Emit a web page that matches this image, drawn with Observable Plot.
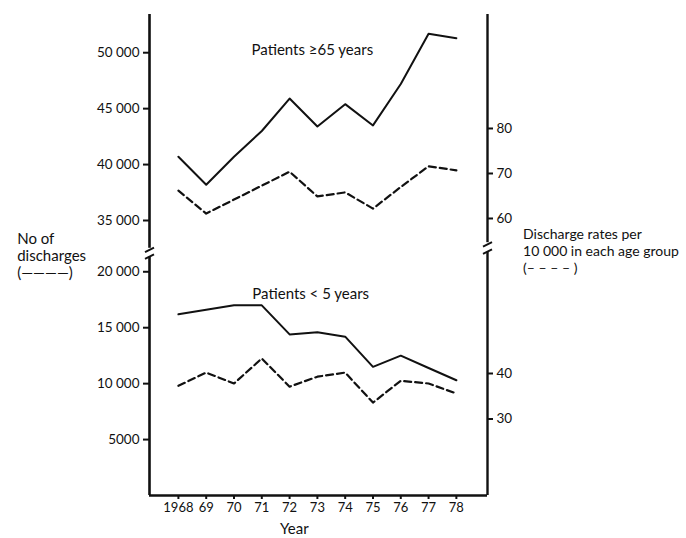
<!DOCTYPE html>
<html>
<head>
<meta charset="utf-8">
<script src="https://cdn.jsdelivr.net/npm/d3@7"></script>
<script src="https://cdn.jsdelivr.net/npm/@observablehq/plot@0.6"></script>
<style>
  body { margin: 0; background: #fff; }
</style>
</head>
<body>
<div id="chart"></div>
<script>
// ---- Data ----
const years = [1968, 1969, 1970, 1971, 1972, 1973, 1974, 1975, 1976, 1977, 1978];
const yearLabels = ["1968", "69", "70", "71", "72", "73", "74", "75", "76", "77", "78"];

// Patients >= 65 years
const over65Discharges = [40700, 38200, 40700, 43000, 45900, 43400, 45400, 43500, 47200, 51700, 51300];
const over65Rates      = [66.2, 61.1, 64.2, 67.3, 70.4, 64.9, 65.8, 62.2, 67.0, 71.6, 70.7];

// Patients < 5 years
const under5Discharges = [16200, 16600, 17000, 17000, 14400, 14600, 14200, 11500, 12500, 11400, 10300];
const under5Rates      = [37.3, 40.2, 37.8, 43.3, 37.1, 39.3, 40.2, 33.6, 38.4, 37.8, 35.6];

// Axis ticks
const leftTicksBottom  = [5000, 10000, 15000, 20000];
const leftTicksTop     = [35000, 40000, 45000, 50000];
const rightTicksBottom = [30, 40];
const rightTicksTop    = [60, 70, 80];

// ---- Broken-axis alignment (one shared y scale in "virtual" count units) ----
const topOffset = 10416;          // counts removed by the break on the left axis
const countV = c => c > 30000 ? c - topOffset : c;
// right-hand rate axes, aligned to the virtual count scale
const rateTop = {r0: 60, v0: 35180 - topOffset, k: 402.3};
const rateBot = {r0: 40, v0: 10907, k: 406.8};
const rateV = r => r >= 50 ? rateTop.v0 + (r - rateTop.r0) * rateTop.k
                           : rateBot.v0 + (r - rateBot.r0) * rateBot.k;

const fmtCount = n => n >= 10000 ? d3.format(",")(n).replace(/,/g, " ") : String(n);

const table = years.map((year, i) => ({
  year,
  o65n: countV(over65Discharges[i]),
  o65r: rateV(over65Rates[i]),
  u5n: countV(under5Discharges[i]),
  u5r: rateV(under5Rates[i])
}));

const xMin = years[0] - 1.04, xMax = years[years.length - 1] + 1.12;
const yMin = 0, yMax = 43000;
const pxPerYear = 27.8;
const slashW = 4.5 / pxPerYear;

const leftTickV = [...leftTicksBottom, ...leftTicksTop].map(countV);
const leftLabel = new Map([...leftTicksBottom, ...leftTicksTop].map(c => [countV(c), fmtCount(c)]));
const rightTickV = [...rightTicksBottom, ...rightTicksTop].map(rateV);
const rightLabel = new Map([...rightTicksBottom, ...rightTicksTop].map(r => [rateV(r), String(r)]));

// break positions (virtual units)
const leftBreak = [21300, 22100];
const rightBreak = [21750, 22600];

const slashes = [
  {x: xMin, y: leftBreak[0] + 50}, {x: xMin, y: leftBreak[1] - 150},
  {x: xMax, y: rightBreak[0] + 50}, {x: xMax, y: rightBreak[1] - 150}
];

const font = "Lato, 'Open Sans', 'DejaVu Sans', sans-serif";

const chart = Plot.plot({
  width: 686,
  height: 538,
  marginLeft: 149,
  marginRight: 199,
  marginTop: 14,
  marginBottom: 43,
  style: {fontFamily: font, fontSize: "14px", background: "#fff", color: "#111"},
  x: {domain: [xMin, xMax], axis: null},
  y: {domain: [yMin, yMax], axis: null},
  marks: [
    // axis lines with breaks
    Plot.ruleX([xMin], {y1: yMin, y2: leftBreak[0], strokeWidth: 2.6, stroke: "#111"}),
    Plot.ruleX([xMin], {y1: leftBreak[1], y2: yMax, strokeWidth: 2.6, stroke: "#111"}),
    Plot.ruleX([xMax], {y1: yMin, y2: rightBreak[0], strokeWidth: 2.4, stroke: "#111"}),
    Plot.ruleX([xMax], {y1: rightBreak[1], y2: yMax, strokeWidth: 2.4, stroke: "#111"}),
    Plot.ruleY([yMin], {x1: xMin, x2: xMax, strokeWidth: 2.6, stroke: "#111"}),
    Plot.link(slashes, {x1: d => d.x - slashW, x2: d => d.x + slashW, y1: d => d.y - 200, y2: d => d.y + 200, strokeWidth: 2, stroke: "#111"}),

    // axes
    Plot.axisY({anchor: "left", ticks: leftTickV, tickFormat: d => leftLabel.get(d), tickSize: 6, tickPadding: 4, strokeWidth: 2, label: null, fontSize: 13.5}),
    Plot.axisY({anchor: "right", ticks: rightTickV, tickFormat: d => rightLabel.get(d), tickSize: 5, tickPadding: 4, strokeWidth: 2, label: null, fontSize: 13.5}),
    Plot.axisX({ticks: years, tickFormat: (d) => yearLabels[years.indexOf(d)], tickSize: 4, tickPadding: 3, strokeWidth: 2, label: null, fontSize: 13}),

    // series
    Plot.line(table, {x: "year", y: "o65n", stroke: "#111", strokeWidth: 2}),
    Plot.line(table, {x: "year", y: "o65r", stroke: "#111", strokeWidth: 2.2, strokeDasharray: "7,4"}),
    Plot.line(table, {x: "year", y: "u5n", stroke: "#111", strokeWidth: 2}),
    Plot.line(table, {x: "year", y: "u5r", stroke: "#111", strokeWidth: 2.2, strokeDasharray: "7,4"}),

    // annotations
    Plot.text(["Patients \u226565 years"], {x: 1970.63, y: countV(50200), text: d => d, textAnchor: "start", fontSize: 15, fill: "#111"}),
    Plot.text(["Patients < 5 years"], {x: 1970.66, y: 17970, text: d => d, textAnchor: "start", fontSize: 15, fill: "#111"}),
    Plot.text(["No of\ndischarges\n(\u2014\u2014\u2014\u2014)"], {x: 1962.2, y: 21455, text: d => d, textAnchor: "start", lineHeight: 1.15, fontSize: 15, fill: "#111"}),
    Plot.text(["Discharge rates per\n10 000 in each age group\n(\u2013 \u2013 \u2013 \u2013 )"], {x: 1980.4, y: 21900, text: d => d, textAnchor: "start", lineHeight: 1.22, fontSize: 14, fill: "#111"}),
    Plot.text(["Year"], {x: 1972.17, y: -3040, text: d => d, fontSize: 15, fill: "#111"})
  ]
});

document.getElementById("chart").appendChild(chart);
</script>
</body>
</html>
